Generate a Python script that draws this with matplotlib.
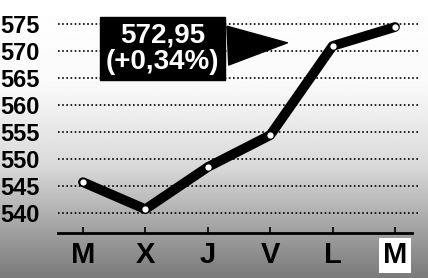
import numpy as np
import matplotlib
matplotlib.use("Agg")
import matplotlib.pyplot as plt

days = ["M", "X", "J", "V", "L", "M"]
values = [545.7, 540.7, 548.5, 554.4, 570.9, 574.4]
yticks = [540, 545, 550, 555, 560, 565, 570, 575]
label_value = "572,95"
label_change = "(+0,34%)"

W, H = 428, 278
fig = plt.figure(figsize=(W / 100, H / 100), dpi=100)

# background gradient (top white -> bottom grey)
bg = fig.add_axes([0, 0, 1, 1], zorder=0)
bg.set_axis_off()
depth = np.linspace(0, 1, 300)  # 0 = top, 1 = bottom
grey = np.interp(depth, [0, 0.3, 0.6, 0.8, 1.0], [1.0, 0.98, 0.85, 0.66, 0.48])
img = np.repeat(grey[:, None], 10, axis=1)
bg.imshow(img, aspect="auto", cmap="gray", vmin=0, vmax=1,
          extent=[0, 1, 0, 1], origin="upper", interpolation="bilinear")
bg.set_xlim(0, 1)
bg.set_ylim(0, 1)

fam = ["Liberation Sans Narrow", "Liberation Sans", "DejaVu Sans"]

ax = fig.add_axes([58 / W, 45 / H, (420 - 58) / W, 233 / H], zorder=1)
ax.patch.set_visible(False)
x = np.arange(len(days))
ax.set_xlim(-0.40, 5.40)
ax.set_ylim(536.3, 579.4)

for s in ["top", "right", "left"]:
    ax.spines[s].set_visible(False)
ax.spines["bottom"].set_linewidth(2)
ax.spines["bottom"].set_bounds(-0.40, 5.27)

ax.set_yticks(yticks)
ax.set_yticklabels([str(v) for v in yticks], fontsize=17, fontweight="bold",
                   family=fam)
ax.tick_params(axis="y", length=0, pad=13)
ax.yaxis.grid(True, color="black", linestyle=(0, (1.0, 1.5)), linewidth=1.2)
ax.set_axisbelow(True)

ax.set_xticks(x)
ax.set_xticklabels(days, fontsize=21, fontweight="bold",
                   family=["Liberation Sans", "DejaVu Sans"])
ax.tick_params(axis="x", direction="in", length=4, width=1.2, pad=6)
lbls = ax.get_xticklabels()
lbls[-1].set_bbox(dict(facecolor="white", edgecolor="none", boxstyle="square,pad=0.12"))

ax.plot(x, values, color="black", linewidth=7, solid_capstyle="round",
        solid_joinstyle="round", zorder=3)
ax.plot(x, values, linestyle="none", marker="o", markersize=4.5,
        markerfacecolor="white", markeredgecolor="none", zorder=4)

ax.annotate(label_value + "\n" + label_change, xy=(3.32, 571.5), xytext=(1.27, 570.4),
            ha="center", va="center", color="white", fontsize=20, fontweight="bold",
            family=["Liberation Sans", "DejaVu Sans"], linespacing=1.0,
            bbox=dict(boxstyle="square,pad=0.2", fc="black", ec="black"),
            arrowprops=dict(arrowstyle="wedge,tail_width=1.4,shrink_factor=0.5",
                            fc="black", ec="black"),
            zorder=5)

fig.savefig("out.png", dpi=100)
